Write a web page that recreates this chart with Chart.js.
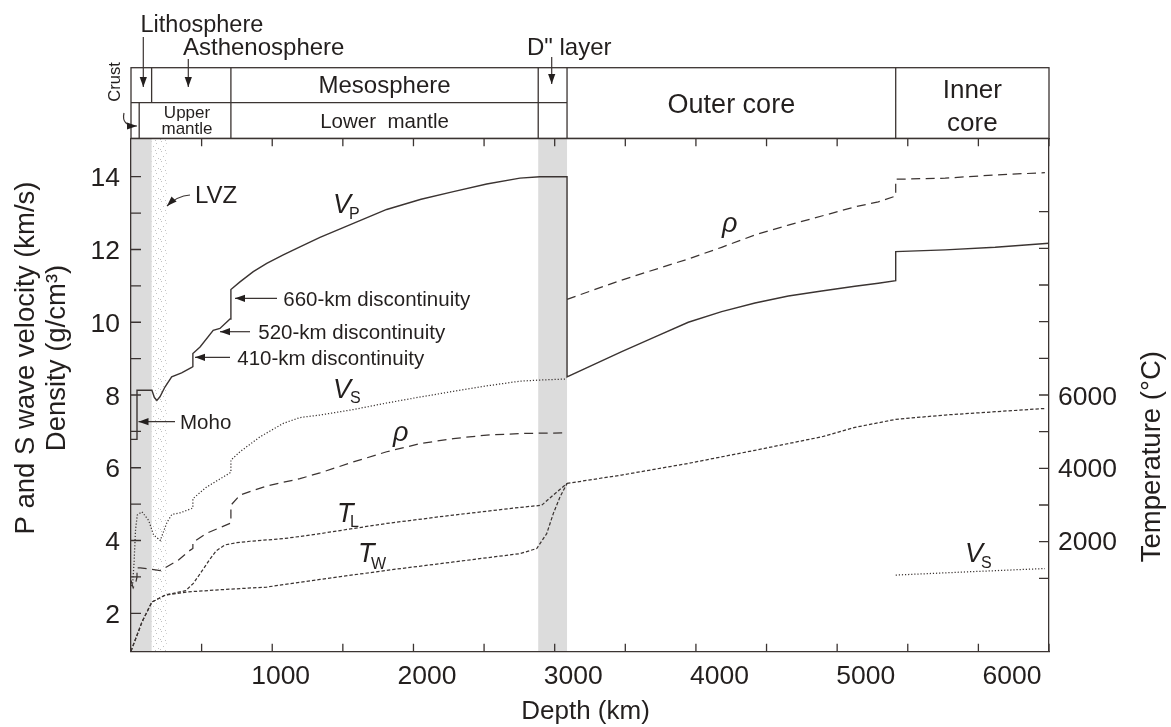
<!DOCTYPE html>
<html>
<head>
<meta charset="utf-8">
<script src="https://cdn.jsdelivr.net/npm/chart.js@4.4.0/dist/chart.umd.min.js"></script>
<style>
html, body { margin: 0; padding: 0; background: #fff; }
canvas { display: block; }
</style>
</head>
<body>
<canvas id="earth" width="1171" height="727"></canvas>
<script>
// depth in km, velocity km/s, density g/cm3, temperature in deg C
const vpDepth = [-23, 18, 18, 120, 137, 154, 175, 209, 255, 323, 392, 400, 400, 449, 539, 585, 654, 660, 660, 722, 813, 905, 1018, 1132, 1269, 1497, 1725, 1960, 2181, 2409, 2636, 2773, 2958, 2958, 3332, 3560, 3787, 4015, 4243, 4471, 4699, 4926, 5086, 5205, 5205, 5543, 5885, 6253];
const vpValue = [6.78, 6.78, 8.13, 8.13, 7.93, 7.85, 7.95, 8.22, 8.5, 8.61, 8.76, 8.78, 9.14, 9.32, 9.78, 9.83, 10.09, 10.1, 10.9, 11.11, 11.39, 11.62, 11.85, 12.07, 12.33, 12.72, 13.1, 13.38, 13.59, 13.8, 13.96, 14.0, 14.0, 8.5, 9.19, 9.6, 10.0, 10.29, 10.53, 10.72, 10.86, 10.99, 11.07, 11.14, 11.94, 11.99, 12.06, 12.17];

const vsDepth = [-23, -12, -2, 8, 20, 52, 98, 132, 177, 223, 257, 312, 392, 400, 400, 494, 654, 660, 660, 722, 859, 1018, 1132, 1269, 1497, 1725, 1960, 2181, 2409, 2636, 2773, 2958];
const vsValue = [2.75, 2.8, 3.4, 4.3, 4.7, 4.79, 4.55, 4.15, 4.0, 4.5, 4.72, 4.76, 4.88, 4.9, 5.15, 5.47, 5.86, 5.88, 6.21, 6.44, 6.85, 7.22, 7.38, 7.45, 7.6, 7.78, 7.95, 8.1, 8.25, 8.38, 8.41, 8.44];
const vsCoreDepth = [5205, 5700, 6225];
const vsCoreValue = [3.05, 3.14, 3.23];

const rhoDepth = [-23, -8, 10, 18, 18, 40, 98, 177, 300, 380, 400, 400, 494, 654, 660, 660, 722, 905, 1132, 1269, 1497, 1725, 1960, 2181, 2409, 2636, 2930];
const rhoValue = [2.9, 2.7, 2.85, 3.0, 3.25, 3.25, 3.22, 3.17, 3.46, 3.73, 3.78, 3.95, 4.2, 4.47, 4.48, 4.97, 5.25, 5.5, 5.7, 5.86, 6.16, 6.44, 6.67, 6.8, 6.9, 6.94, 6.96];
const rhoCoreDepth = [2958, 3332, 3787, 4015, 4243, 4471, 4699, 4926, 5086, 5205, 5205, 5543, 5885, 6225];
const rhoCoreValue = [10.63, 11.16, 11.74, 12.06, 12.4, 12.67, 12.92, 13.17, 13.31, 13.47, 13.93, 13.96, 14.05, 14.11];

const tlDepth = [-23, 52, 120, 211, 312, 350, 403, 460, 510, 560, 620, 700, 790, 1018, 1269, 1725, 2181, 2636, 2785, 2864, 2958];
const tlTemp = [-1040, -240, 310, 500, 590, 620, 820, 1150, 1450, 1720, 1880, 1940, 1980, 2050, 2190, 2470, 2700, 2910, 2970, 3250, 3570];
const twDepth = [-23, 52, 120, 211, 371, 600, 905, 1269, 1725, 2181, 2636, 2751, 2819, 2864, 2910, 2958];
const twTemp = [-1040, -240, 310, 500, 590, 650, 720, 930, 1180, 1410, 1640, 1780, 2190, 2740, 3200, 3570];
const tCoreDepth = [2958, 3332, 3787, 4243, 4699, 4926, 5205, 5543, 5885, 6225];
const tCoreTemp = [3570, 3800, 4120, 4480, 4850, 5110, 5330, 5450, 5540, 5630];

// layer boundaries (km) as placed on the figure
const crustBase = 33, lithoBase = 118, lvzBase = 221, upperBase = 660;
const dppTop = 2761, cmb = 2958, icb = 5205;

const xTickLabels = [1000, 2000, 3000, 4000, 5000, 6000];
const yTickLabels = [2, 4, 6, 8, 10, 12, 14];
const tTickLabels = [2000, 4000, 6000];

const FONT = "'Liberation Sans', Arial, Helvetica, sans-serif";
const ink = '#231f1e';
const lineInk = '#3b3432';
Chart.defaults.font.family = FONT;
Chart.defaults.color = ink;

const pts = (xs, ys) => xs.map((x, i) => ({ x: x, y: ys[i] }));

function series(label, xs, ys, dash, axis) {
  return {
    label: label,
    data: pts(xs, ys),
    yAxisID: axis || 'y',
    borderColor: lineInk,
    borderWidth: dash.length ? 1.25 : 1.4,
    borderDash: dash,
    pointRadius: 0,
    tension: 0,
    fill: false
  };
}

const DOT = [1.2, 1.9], LONG = [9, 5.5], SHORT = [3.4, 2];

// stipple for the LVZ strip
const dots = document.createElement('canvas');
dots.width = 10; dots.height = 10;
(function () {
  const g = dots.getContext('2d');
  g.fillStyle = '#c2c2c2';
  [[1, 1], [6, 3], [3, 6], [8, 8], [0, 9], [5, 0]].forEach(p => g.fillRect(p[0], p[1], 1, 1));
})();

function head(ctx, x, y, ang) {
  const L = 10, W = 3.6;
  ctx.beginPath();
  ctx.moveTo(x, y);
  ctx.lineTo(x - L * Math.cos(ang) + W * Math.sin(ang), y - L * Math.sin(ang) - W * Math.cos(ang));
  ctx.lineTo(x - L * Math.cos(ang) - W * Math.sin(ang), y - L * Math.sin(ang) + W * Math.cos(ang));
  ctx.closePath();
  ctx.fill();
}
function arrow(ctx, x1, y1, x2, y2) {
  ctx.beginPath(); ctx.moveTo(x1, y1); ctx.lineTo(x2, y2); ctx.stroke();
  head(ctx, x2, y2, Math.atan2(y2 - y1, x2 - x1));
}
function curvedArrow(ctx, x1, y1, cx, cy, x2, y2) {
  ctx.beginPath(); ctx.moveTo(x1, y1); ctx.quadraticCurveTo(cx, cy, x2, y2); ctx.stroke();
  head(ctx, x2, y2, Math.atan2(y2 - cy, x2 - cx));
}
function txt(ctx, s, x, y, size, align, style) {
  ctx.font = (style ? style + ' ' : '') + size + 'px ' + FONT;
  ctx.textAlign = align || 'left';
  ctx.textBaseline = 'alphabetic';
  ctx.fillText(s, x, y);
}
function sub(ctx, main, s, x, y, dx, dy) {
  txt(ctx, main, x, y, 27, 'left', 'italic');
  if (s) txt(ctx, s, x + dx, y + dy, 16);
}
function vtxt(ctx, s, x, y, size) {
  ctx.save();
  ctx.translate(x, y);
  ctx.rotate(-Math.PI / 2);
  ctx.font = size + 'px ' + FONT;
  ctx.textAlign = 'center';
  ctx.textBaseline = 'middle';
  ctx.fillText(s, 0, 0);
  ctx.restore();
}

const figure = {
  id: 'figure',
  beforeDraw(chart) {
    const { ctx, chartArea: a, scales: { x } } = chart;
    ctx.save();
    ctx.fillStyle = '#fff';
    ctx.fillRect(0, 0, chart.width, chart.height);
    ctx.fillStyle = '#dcdcdc';
    ctx.fillRect(a.left, a.top, x.getPixelForValue(lithoBase) - a.left, a.bottom - a.top);
    ctx.fillRect(x.getPixelForValue(dppTop), a.top, x.getPixelForValue(cmb) - x.getPixelForValue(dppTop), a.bottom - a.top);
    ctx.fillStyle = ctx.createPattern(dots, 'repeat');
    ctx.fillRect(x.getPixelForValue(lithoBase), a.top, x.getPixelForValue(lvzBase) - x.getPixelForValue(lithoBase), a.bottom - a.top);
    ctx.restore();
  },
  afterDraw(chart) {
    const { ctx, chartArea: a, scales: { x, y, yT } } = chart;
    const px = v => x.getPixelForValue(v);
    ctx.save();
    ctx.strokeStyle = lineInk;
    ctx.fillStyle = ink;
    ctx.lineWidth = 1.3;

    // inward tick marks
    ctx.beginPath();
    x.ticks.forEach(t => {
      if (t.value <= 0) return;
      const p = px(t.value);
      ctx.moveTo(p, a.bottom); ctx.lineTo(p, a.bottom - 8);
      ctx.moveTo(p, a.top); ctx.lineTo(p, a.top + 8);
    });
    y.ticks.forEach(t => {
      if (t.value < 2 || t.value > 14) return;
      const p = y.getPixelForValue(t.value);
      ctx.moveTo(a.left, p); ctx.lineTo(a.left + 10, p);
    });
    yT.ticks.forEach(t => {
      if (t.value < 0 || t.value > 12000) return;
      const p = yT.getPixelForValue(t.value);
      ctx.moveTo(a.right, p); ctx.lineTo(a.right - 10, p);
    });
    ctx.stroke();

    // tick labels
    xTickLabels.forEach(v => txt(ctx, String(v), px(v), a.bottom + 32, 26.5, 'center'));
    yTickLabels.forEach(v => txt(ctx, String(v), a.left - 11, y.getPixelForValue(v) + 9.5, 26.5, 'right'));
    tTickLabels.forEach(v => txt(ctx, String(v), a.right + 9, yT.getPixelForValue(v) + 9.5, 26.5, 'left'));

    // axis titles
    txt(ctx, 'Depth (km)', 585.5, 719, 26, 'center');
    vtxt(ctx, 'P and S wave velocity (km/s)', 26, 358, 27.5);
    vtxt(ctx, 'Density (g/cm\u00b3)', 57, 358, 27.5);
    vtxt(ctx, 'Temperature (\u00b0C)', 1152.5, 456.7, 27.5);

    // layer header
    const hTop = 67.7, hMid = 102.7, hBot = a.top;
    ctx.strokeRect(a.left, hTop, a.right - a.left, hBot - hTop);
    ctx.beginPath();
    ctx.moveTo(a.left, hMid); ctx.lineTo(px(cmb), hMid);
    ctx.moveTo(px(lithoBase), hTop); ctx.lineTo(px(lithoBase), hMid);
    ctx.moveTo(px(crustBase), hMid); ctx.lineTo(px(crustBase), hBot);
    [upperBase, dppTop, cmb, icb].forEach(d => { ctx.moveTo(px(d), hTop); ctx.lineTo(px(d), hBot); });
    ctx.stroke();

    txt(ctx, 'Lithosphere', 140.5, 31.5, 23.5);
    txt(ctx, 'Asthenosphere', 183, 55, 24);
    txt(ctx, 'D" layer', 527, 55, 24);
    txt(ctx, 'Mesosphere', (px(upperBase) + px(dppTop)) / 2, 93, 24, 'center');
    txt(ctx, 'Lower  mantle', (px(upperBase) + px(dppTop)) / 2, 128, 20.5, 'center');
    txt(ctx, 'Upper', 187, 118, 17, 'center');
    txt(ctx, 'mantle', 187, 134, 17, 'center');
    txt(ctx, 'Outer core', (px(cmb) + px(icb)) / 2, 112.5, 27, 'center');
    txt(ctx, 'Inner', (px(icb) + a.right) / 2, 98, 26, 'center');
    txt(ctx, 'core', (px(icb) + a.right) / 2, 131, 26, 'center');
    vtxt(ctx, 'Crust', 115, 82, 16.5);

    ctx.lineWidth = 1.2;
    arrow(ctx, 143.3, 37, 143.3, 87);
    arrow(ctx, 188.3, 59, 188.3, 87);
    arrow(ctx, 551.7, 57, 551.7, 84);
    curvedArrow(ctx, 124, 113, 121, 126, 137, 126);

    // annotations inside the plot
    txt(ctx, 'LVZ', 195, 202.5, 24);
    curvedArrow(ctx, 190, 195, 177, 196, 167, 206);
    txt(ctx, '660-km discontinuity', 283.3, 305.5, 20.5);
    arrow(ctx, 277, 298.3, 235, 298.3);
    txt(ctx, '520-km discontinuity', 258.3, 339, 20.5);
    arrow(ctx, 250, 331.7, 220, 331.7);
    txt(ctx, '410-km discontinuity', 237.3, 364.5, 20.5);
    arrow(ctx, 230, 357.3, 195, 357.3);
    txt(ctx, 'Moho', 180, 429, 20.5);
    arrow(ctx, 175, 421.7, 138.5, 421.7);

    sub(ctx, 'V', 'P', 333, 213, 16, 6);
    sub(ctx, 'V', 'S', 333, 398, 17, 5);
    sub(ctx, '\u03c1', '', 393, 441);
    sub(ctx, 'T', 'L', 337, 522, 13, 5);
    sub(ctx, 'T', 'W', 358, 562, 13, 7);
    sub(ctx, '\u03c1', '', 722, 232);
    sub(ctx, 'V', 'S', 965, 562, 16, 6);

    ctx.restore();
  }
};

const axisLine = { display: true, color: lineInk, width: 1.3 };
const noGrid = { display: false, drawTicks: false };

new Chart(document.getElementById('earth'), {
  type: 'line',
  data: {
    datasets: [
      series('Vp', vpDepth, vpValue, []),
      series('Vs', vsDepth, vsValue, DOT),
      series('Vs inner core', vsCoreDepth, vsCoreValue, DOT),
      series('density', rhoDepth, rhoValue, LONG),
      series('density core', rhoCoreDepth, rhoCoreValue, LONG),
      series('TL', tlDepth, tlTemp, SHORT, 'yT'),
      series('TW', twDepth, twTemp, SHORT, 'yT'),
      series('T core', tCoreDepth, tCoreTemp, SHORT, 'yT')
    ]
  },
  options: {
    responsive: false,
    animation: false,
    events: [],
    layout: { padding: 0 },
    plugins: { legend: { display: false }, tooltip: { enabled: false } },
    scales: {
      x: {
        type: 'linear', position: 'bottom', min: -23, max: 6253,
        grid: noGrid, border: axisLine,
        ticks: { display: false, stepSize: 500, includeBounds: false },
        afterFit: s => { s.height = 727 - 651.7; }
      },
      xTop: {
        type: 'linear', position: 'top', min: -23, max: 6253,
        grid: noGrid, border: axisLine,
        ticks: { display: false, stepSize: 500 },
        afterFit: s => { s.height = 138.3; }
      },
      y: {
        type: 'linear', position: 'left', min: 0.944, max: 15.056,
        grid: noGrid, border: axisLine,
        ticks: { display: false, stepSize: 1, includeBounds: false },
        afterFit: s => { s.width = 131; }
      },
      yT: {
        type: 'linear', position: 'right', min: -1056, max: 13056,
        grid: noGrid, border: axisLine,
        ticks: { display: false, stepSize: 1000, includeBounds: false },
        afterFit: s => { s.width = 1171 - 1049; }
      }
    }
  },
  plugins: [figure]
});
</script>
</body>
</html>
